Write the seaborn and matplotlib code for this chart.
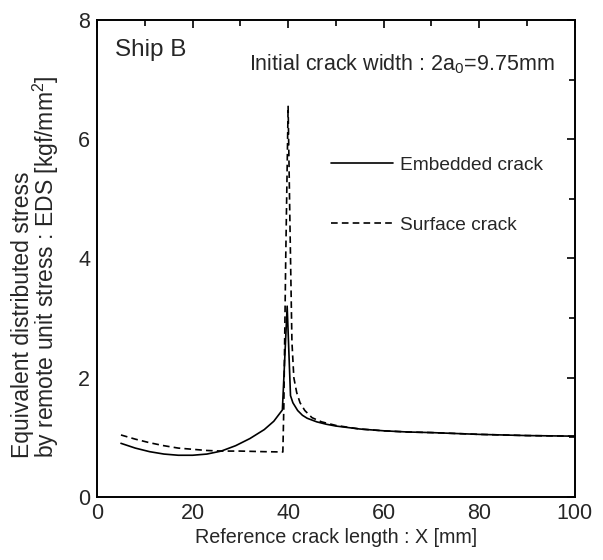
import numpy as np
import pandas as pd
import seaborn as sns
import matplotlib
matplotlib.use("Agg")
import matplotlib.pyplot as plt
from matplotlib.ticker import MultipleLocator
from matplotlib.lines import Line2D

# Data
emb_x = [5, 8, 11, 14, 17, 20, 23, 26, 29, 32, 35, 37, 38.8, 39.8, 40.5, 41.0,
         42.0, 43.0, 44.0, 46.0, 48.0, 50.0, 55.0, 60.0, 65.0, 70.0, 80.0, 90.0, 100.0]
emb_y = [0.90, 0.82, 0.76, 0.72, 0.70, 0.70, 0.72, 0.77, 0.86, 0.98, 1.13, 1.27, 1.46, 3.20, 1.70, 1.58,
         1.45, 1.37, 1.32, 1.26, 1.22, 1.19, 1.14, 1.11, 1.09, 1.08, 1.05, 1.03, 1.02]

surf_x = [5, 8, 11, 14, 17, 20, 23, 26, 30, 35, 38.9, 39.1, 39.5, 40.0, 40.4, 40.8, 41.2,
          41.8, 42.5, 43.5, 45.0, 47.0, 50.0, 55.0, 60.0, 65.0, 70.0, 80.0, 90.0, 100.0]
surf_y = [1.04, 0.97, 0.91, 0.86, 0.82, 0.80, 0.78, 0.77, 0.77, 0.76, 0.755, 1.50, 4.00, 6.55, 4.50, 2.60, 2.00,
          1.75, 1.58, 1.45, 1.33, 1.26, 1.20, 1.14, 1.11, 1.09, 1.08, 1.05, 1.03, 1.02]

series_names = ["Embedded crack", "Surface crack"]

df = pd.concat([
    pd.DataFrame({"X": emb_x, "EDS": emb_y, "type": series_names[0]}),
    pd.DataFrame({"X": surf_x, "EDS": surf_y, "type": series_names[1]}),
])

sns.set_style("white")
plt.rcParams['font.family'] = ['Liberation Sans', 'DejaVu Sans']
plt.rcParams['mathtext.fontset'] = 'custom'
plt.rcParams['mathtext.rm'] = 'Liberation Sans'
plt.rcParams['mathtext.it'] = 'Liberation Sans'

fig = plt.figure(figsize=(6.03, 5.60), dpi=100)
ax = fig.add_axes([0.161, 0.1125, 0.792, 0.852])

sns.lineplot(data=df, x="X", y="EDS", hue="type", style="type",
             palette={series_names[0]: "black", series_names[1]: "black"},
             dashes={series_names[0]: "", series_names[1]: (4, 2.5)},
             linewidth=1.2, sort=False, estimator=None, legend=False, ax=ax)

ax.set_xlim(0, 100)
ax.set_ylim(0, 8)
ax.xaxis.set_major_locator(MultipleLocator(20))
ax.xaxis.set_minor_locator(MultipleLocator(10))
ax.yaxis.set_major_locator(MultipleLocator(2))
ax.yaxis.set_minor_locator(MultipleLocator(1))
ax.tick_params(which="both", direction="in", top=True, right=True, color="black",
               labelsize=15.5)
ax.tick_params(axis="x", pad=4)
ax.tick_params(axis="y", pad=5)
ax.tick_params(which="major", length=6, width=1.2)
ax.tick_params(which="minor", length=4, width=1.2)
for s in ax.spines.values():
    s.set_color("black")
    s.set_linewidth(1.4)

ax.set_xlabel("Reference crack length : X [mm]", fontsize=14.2, labelpad=3)
ax.set_ylabel("Equivalent distributed stress\nby remote unit stress : EDS [kgf/mm$^2$]",
              fontsize=16.5, linespacing=0.85, multialignment="left")
ax.yaxis.set_label_coords(-0.076, 0.483)

ax.text(3.8, 7.50, "Ship B", fontsize=17.5, va="center", ha="left")
ax.text(95.8, 7.25, "Initial crack width : 2a$_0$=9.75mm", fontsize=15.5, va="center", ha="right")

handles = [Line2D([], [], color="black", lw=1.2, ls="-"),
           Line2D([], [], color="black", lw=1.2, ls=(0, (4, 2.5)))]
ax.legend(handles, series_names, loc="upper left", bbox_to_anchor=(0.4895, 0.713),
          frameon=False, fontsize=13.75, handlelength=3.25, handletextpad=0.37,
          labelspacing=2.22, borderaxespad=0, borderpad=0)

fig.savefig("out.png", dpi=100)
